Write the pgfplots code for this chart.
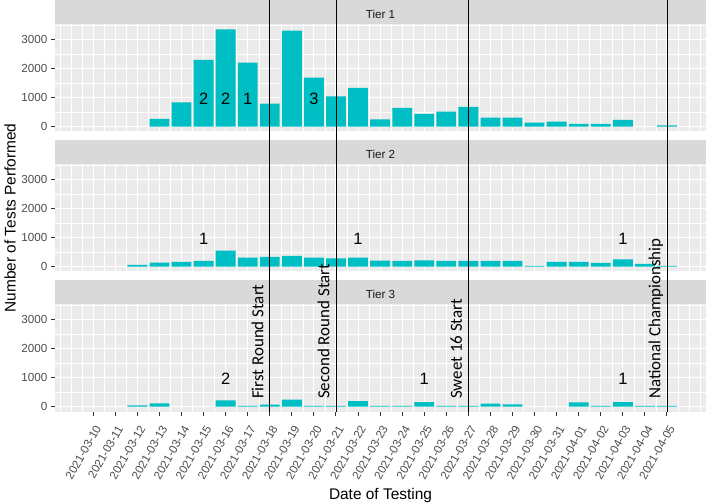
\documentclass[border=0pt]{standalone}
\usepackage{fontspec}
\setmainfont{Liberation Sans}
\newfontfamily\carlito{Carlito}
\usepackage{pgfplots}
\pgfplotsset{compat=1.18}

\definecolor{panelbg}{HTML}{EBEBEB}
\definecolor{stripbg}{HTML}{D9D9D9}
\definecolor{barc}{HTML}{00BFC4}
\definecolor{tickc}{HTML}{333333}
\definecolor{tickl}{HTML}{4D4D4D}
\definecolor{stript}{HTML}{1A1A1A}

% day index: 0 = 2021-03-10
\pgfplotsset{
  panel/.style={
    scale only axis, width=651bp, height=107bp, anchor=south west,
    xmin=-1.735, xmax=27.77, ymin=-168, ymax=3522,
    axis background/.style={fill=panelbg},
    axis line style={draw=none},
    grid=both,
    major grid style={white, line width=1bp},
    minor grid style={white, line width=0.5bp},
    xtick={0,...,26},
    minor xtick={-1.5,-0.5,...,27.5},
    extra x ticks={-1,27},
    extra x tick labels={},
    extra x tick style={major tick length=0pt, grid=major},
    ytick={0,1000,2000,3000},
    minor ytick={500,1500,2500,3500},
    tick align=outside,
    major tick length=4bp, minor tick length=0pt,
    xtick pos=bottom, ytick pos=left,
    tick style={color=tickc, line width=1bp},
    /pgf/number format/assume math mode=true,
    /pgf/number format/1000 sep={},
    yticklabel style={font=\fontsize{11.7}{12}\selectfont, text=tickl, inner sep=0pt, xshift=-3.5bp},
  },
  bars/.style={ybar, bar width=0.9, bar shift=0pt, fill=barc, draw=none},
  counts/.style={draw=none, mark=none, nodes near coords, point meta=explicit symbolic,
    nodes near coords style={anchor=center, inner sep=0pt, text=black, font=\fontsize{16.5}{16.5}\selectfont}},
}

\begin{document}
\begin{tikzpicture}
\path[use as bounding box] (0,0) rectangle (708bp,503bp);

% facet strips
\fill[stripbg] (55bp,478.5bp) rectangle (706bp,503bp);
\fill[stripbg] (55bp,338.5bp) rectangle (706bp,363bp);
\fill[stripbg] (55bp,198.5bp) rectangle (706bp,223bp);
\node[text=stript, font=\fontsize{11.7}{12}\selectfont] at (380.5bp,488.8bp) {Tier 1};
\node[text=stript, font=\fontsize{11.7}{12}\selectfont] at (380.5bp,348.8bp) {Tier 2};
\node[text=stript, font=\fontsize{11.7}{12}\selectfont] at (380.5bp,208.8bp) {Tier 3};

% Tier 1
\begin{axis}[panel, at={(55bp,371.5bp)}, xticklabels={}, major x tick style={draw=none}]
\addplot[bars] coordinates {
  (3,265) (4,840) (5,2300) (6,3354) (7,2207) (8,793) (9,3310) (10,1690)
  (11,1046) (12,1333) (13,253) (14,644) (15,437) (16,517) (17,678)
  (18,310) (19,310) (20,138) (21,172) (22,92) (23,92) (24,230) (26,40)
};
\addplot[counts] coordinates {(5,950)[2] (6,950)[2] (7,950)[1] (10,950)[3]};
\end{axis}

% Tier 2
\begin{axis}[panel, at={(55bp,231.5bp)}, xticklabels={}, major x tick style={draw=none}]
\addplot[bars] coordinates {
  (2,57) (3,138) (4,161) (5,195) (6,552) (7,310) (8,333) (9,368) (10,310)
  (11,287) (12,310) (13,207) (14,195) (15,218) (16,195) (17,195) (18,195)
  (19,195) (20,25) (21,161) (22,161) (23,126) (24,253) (25,92) (26,25)
};
\addplot[counts] coordinates {(5,950)[1] (12,950)[1] (24,950)[1]};
\end{axis}

% Tier 3 (with x axis, event lines and labels)
\begin{axis}[panel, at={(55bp,91.5bp)}, clip=false,
  xticklabels={2021-03-10,2021-03-11,2021-03-12,2021-03-13,2021-03-14,2021-03-15,
    2021-03-16,2021-03-17,2021-03-18,2021-03-19,2021-03-20,2021-03-21,2021-03-22,
    2021-03-23,2021-03-24,2021-03-25,2021-03-26,2021-03-27,2021-03-28,2021-03-29,
    2021-03-30,2021-03-31,2021-04-01,2021-04-02,2021-04-03,2021-04-04,2021-04-05},
  xticklabel style={font=\fontsize{11.7}{12}\selectfont, text=tickl, inner sep=0pt,
    xshift=5bp, yshift=-11bp, rotate=60, anchor=east}]
\addplot[bars] coordinates {
  (2,40) (3,114) (6,216) (7,30) (8,68) (9,239) (10,30) (11,30) (12,193)
  (13,25) (14,25) (15,159) (16,25) (17,25) (18,102) (19,80) (22,148)
  (23,25) (24,159) (25,25) (26,25)
};
\addplot[counts] coordinates {(6,950)[2] (15,950)[1] (24,950)[1]};
\addplot[black, line width=0.8bp] coordinates {(8,-168) (8,14023)};
\addplot[black, line width=0.8bp] coordinates {(11,-168) (11,14023)};
\addplot[black, line width=0.8bp] coordinates {(17,-168) (17,14023)};
\addplot[black, line width=0.8bp] coordinates {(26,-168) (26,14023)};
\addplot[draw=none, mark=none, nodes near coords, point meta=explicit symbolic,
  nodes near coords style={xshift=-6.5bp, rotate=90, anchor=base west, inner sep=0pt,
    text=black, font=\carlito\fontsize{17}{17}\selectfont}]
  coordinates {(8,263)[First Round Start] (11,263)[Second Round Start]
    (17,263)[Sweet 16 Start] (26,263)[National Championship]};
\end{axis}

\node[rotate=90, anchor=base, font=\fontsize{15.5}{16}\selectfont] at (15.5bp,285bp) {Number of Tests Performed};
\node[anchor=base, font=\fontsize{15.5}{16}\selectfont] at (380.5bp,4bp) {Date of Testing};
\end{tikzpicture}
\end{document}
